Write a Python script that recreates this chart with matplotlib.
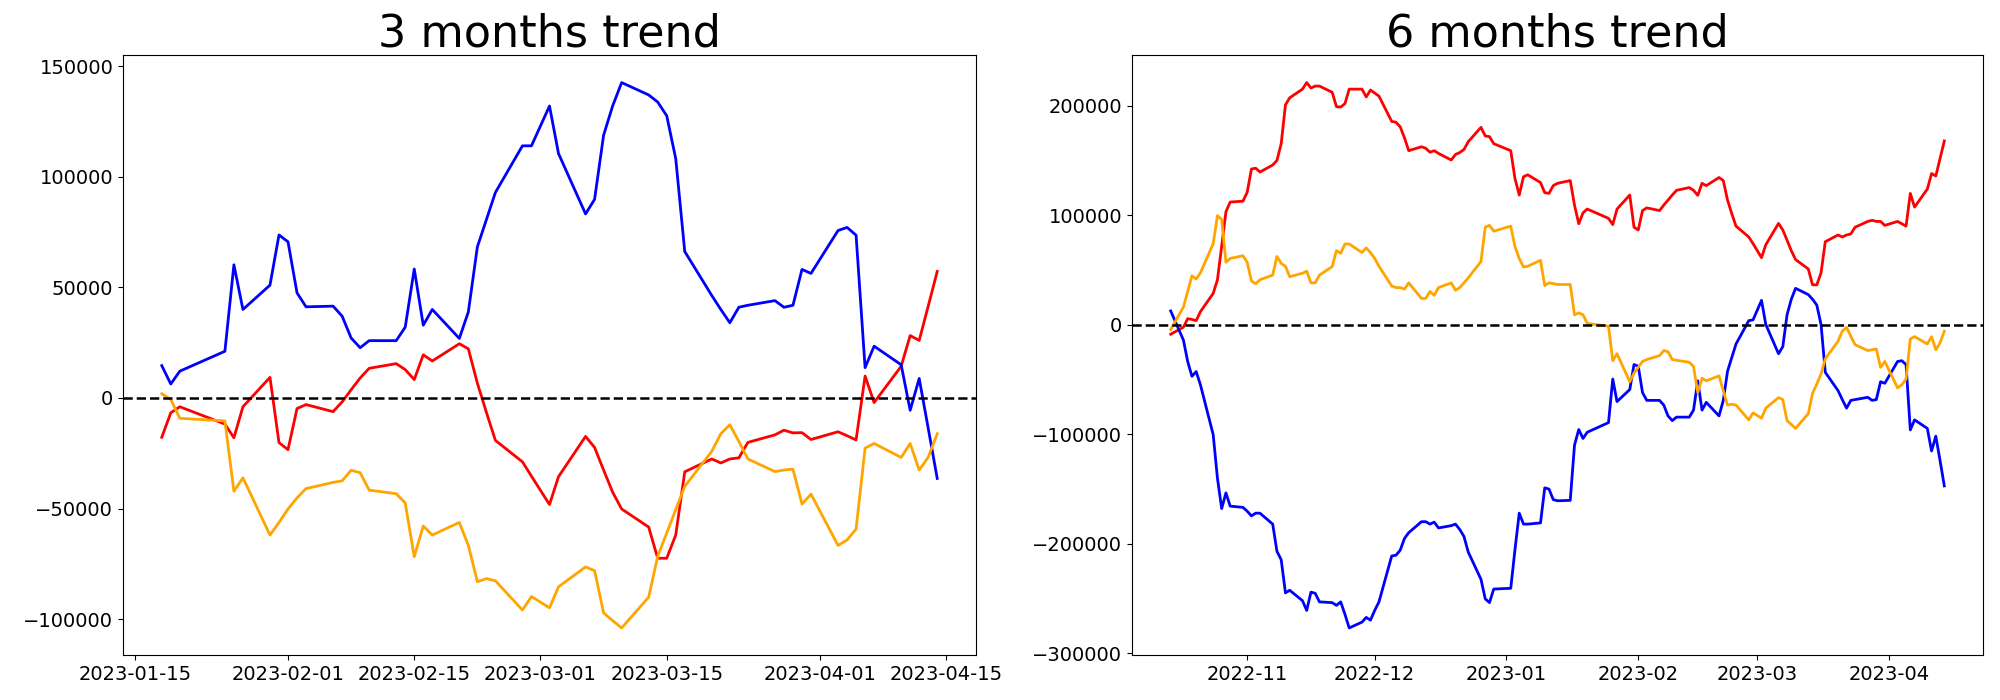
import matplotlib
matplotlib.use('Agg')
import matplotlib.pyplot as plt
import pandas as pd

# KRX trading days (market closed on these weekdays)
holidays = ['2022-12-30', '2023-01-23', '2023-01-24', '2023-03-01']
dates_6m = pd.bdate_range('2022-10-14', '2023-04-14')
dates_6m = dates_6m[~dates_6m.isin(pd.to_datetime(holidays))]
dates_3m = dates_6m[dates_6m >= '2023-01-18']

# 6 months cumulative values
red_6m = [-8500, -2100, 5700, 5000, 3900, 12100, 28800, 41200, 72100, 103400, 112200, 113000,
          121100, 142400, 143100, 139600, 146000, 150200, 165500, 201000, 207400, 215300, 221300,
          216300, 218100, 218100, 212400, 199300, 198900, 202100, 215300, 215300, 208200, 214500,
          211700, 208900, 185800, 185100, 180800, 170900, 159100, 162700, 161300, 157700, 159100,
          156600, 150600, 155600, 157400, 160200, 167300, 180400, 172600, 171900, 165500,
          159100, 133600, 118600, 135300, 137100, 130000, 120800, 120100, 127200, 129300, 131800,
          109400, 92400, 102300, 105800, 97300, 91600, 105800, 118600, 89200,
          86700, 104400, 106900, 104400, 109400, 114000, 118600, 122900, 125400, 122900, 118300,
          129300, 127200, 134600, 131800, 114000, 101600, 90200, 80300, 74200,
          61400, 73200, 92700, 86700, 77400, 67800, 59700, 51100, 36600, 36600, 47600, 76000,
          82100, 80300, 82100, 83100, 89200, 94500, 95500, 94500, 94500, 90900,
          94500, 92400, 90200, 120100, 107600, 124000, 138200, 136000, 152000, 168000]
blue_6m = [12800, -13900, -33400, -46900, -42600, -54700, -100200, -140000, -167700, -153400, -165500, -166600,
           -170100, -174400, -171900, -171900, -181900, -206700, -214500, -244700, -242300, -251800, -260700,
           -244000, -245100, -252900, -253600, -256100, -252900, -264300, -276700, -271400, -267100, -269600,
           -260700, -252900, -211000, -210300, -205700, -195000, -189700, -179700, -179700, -181900, -180100,
           -185400, -183300, -181900, -186800, -193200, -207400, -232300, -250100, -253600, -241200,
           -240500, -205000, -171900, -181900, -181900, -180800, -148800, -149900, -159500, -160600, -160200,
           -109800, -95500, -103700, -98000, -89200, -49400, -70000, -59000, -36200,
           -37700, -61800, -68900, -68900, -73200, -83100, -87400, -84200, -84200, -77800, -51100,
           -77800, -70700, -83100, -68900, -42300, -29800, -17400, 3900, 4600,
           22400, 400, -26300, -19900, 9200, 23400, 33400, 27700, 23400, 18100, 400, -43300,
           -60000, -68200, -76000, -68900, -68200, -66100, -68900, -68200, -51900, -53300,
           -33400, -32700, -36200, -95900, -86700, -94500, -115100, -101600, -124000, -147000]
orange_6m = [-4300, 16300, 30500, 44800, 41900, 47600, 74200, 99800, 96300, 57200, 60700, 63200,
             57200, 40100, 37700, 41200, 45500, 62500, 56100, 53600, 44000, 47200, 49000,
             38400, 38400, 45500, 53300, 67800, 65400, 73900, 73900, 66100, 70300, 66100,
             60700, 53600, 35500, 34100, 34100, 32700, 38400, 24200, 24200, 30500, 27000,
             34100, 38400, 31600, 34100, 38400, 43000, 57900, 89200, 90900, 85600,
             90200, 71400, 60700, 52900, 53600, 59000, 35900, 38400, 37700, 36900, 36900,
             9200, 11000, 9200, 1400, -1200, -32700, -26300, -51900, -44000,
             -38700, -33400, -31600, -28100, -23400, -24500, -31600, -32300, -34100, -38000, -61800,
             -48700, -51100, -46500, -60000, -73200, -72500, -73200, -86700, -80300,
             -85200, -76000, -66400, -68200, -87400, -90900, -94500, -81000, -62500, -54000, -44800, -30900,
             -14900, -5700, -2100, -10300, -18100, -23400, -22700, -22000, -38700, -33400,
             -57500, -54700, -49400, -12800, -10700, -17400, -10700, -22700, -16300, -5700]

# 3 months cumulative values
red_3m = [-17800, -6700, -4000, -11800, -18000, -4000, 9300, -20200,
          -23400, -4800, -3000, -6200, -1800, 3700, 9000, 13400, 15500, 12800, 8300, 19500, 16700,
          24500, 22200, 6700, -6500, -19200, -28900, -35400,
          -48200, -35600, -17400, -22400, -32600, -42600, -50200, -58400, -72500, -72500, -62000, -33400,
          -27600, -29400, -27600, -27100, -20100, -16700, -14600, -15800, -15700, -18800,
          -15300, -17100, -19000, 9900, -2100, 14300, 28200, 26000, 41500, 57200]
blue_3m = [14600, 6300, 12100, 21100, 60200, 40000, 51000, 73700,
           70600, 47500, 41200, 41500, 37000, 27100, 22700, 25900, 25900, 32000, 58300, 32900, 40000,
           26900, 38900, 68300, 80600, 92900, 114000, 114000,
           132000, 110500, 83200, 89800, 118800, 132000, 142600, 137000, 133800, 127600, 108200, 66200,
           46300, 40000, 34000, 41000, 41900, 44000, 41000, 41900, 58100, 56300,
           75700, 77100, 73600, 13700, 23400, 15000, -5600, 8800, -13700, -36400]
orange_3m = [1900, -700, -9200, -10400, -42200, -36100, -62000, -56300,
             -50200, -45200, -41000, -38200, -37500, -32700, -33800, -41700, -43300, -47500, -71800, -57900, -62000,
             -56300, -66700, -83100, -81700, -82700, -95900, -89800,
             -94900, -85400, -76400, -78100, -97200, -100700, -104000, -90100, -71600, -61100, -50500, -40000,
             -24100, -16200, -12100, -19700, -27600, -33300, -32600, -32200, -48000, -43500,
             -66700, -64200, -59300, -22700, -20600, -26900, -20600, -32600, -26800, -16200]

fig = plt.figure(figsize=(20, 7), dpi=100)
ax1 = fig.add_axes([0.0615, 0.064, 0.4265, 0.857])
ax2 = fig.add_axes([0.566, 0.064, 0.4255, 0.857])

for ax, d, r, b, o, title in [(ax1, dates_3m, red_3m, blue_3m, orange_3m, '3 months trend'),
                              (ax2, dates_6m, red_6m, blue_6m, orange_6m, '6 months trend')]:
    ax.plot(d, r, color='red', linewidth=2)
    ax.plot(d, b, color='blue', linewidth=2)
    ax.plot(d, o, color='orange', linewidth=2)
    ax.axhline(0, color='black', linestyle='--', linewidth=1.8)
    ax.set_title(title, fontsize=32)
    ax.tick_params(labelsize=14)

fig.savefig('out.png', dpi=100)
